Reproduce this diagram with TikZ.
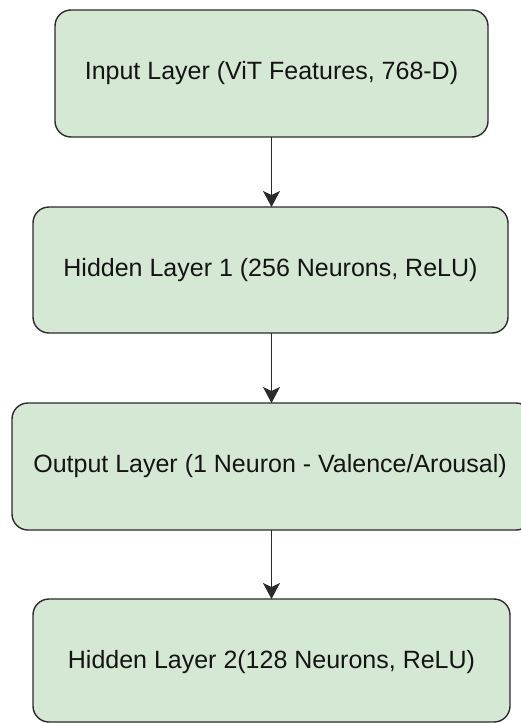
\documentclass[tikz,border=0pt]{standalone}
\usepackage{fontspec}
\setmainfont{Liberation Sans}
\usetikzlibrary{arrows.meta}
\definecolor{boxfill}{HTML}{D5E8D4}
\definecolor{boxline}{HTML}{2B2B2B}
\begin{document}
\begin{tikzpicture}[x=1pt,y=-1pt,
  layer/.style={draw=boxline, line width=1.4pt, fill=boxfill, rounded corners=16pt},
  lbl/.style={font=\fontsize{25}{30}\selectfont, text=black!92},
  conn/.style={draw=boxline, line width=1.3pt, -{Stealth[length=16pt,width=17pt,inset=4pt]}}]
\useasboundingbox (0,0) rectangle (520,723);
\path[layer] (55,10) rectangle (488,137);
\node[lbl] (n1) at (271.5,73.5) {Input Layer (ViT Features, 768-D)};
\coordinate (b1) at (271.5,137);
\path[layer] (33,207) rectangle (508,333);
\node[lbl] (n2) at (270.5,270) {Hidden Layer 1 (256 Neurons, ReLU)};
\coordinate (t2) at (271.5,207);
\coordinate (b2) at (271.5,333);
\path[layer] (12,403) rectangle (532,530);
\node[lbl] (n3) at (270,466.5) {Output Layer (1 Neuron - Valence/Arousal)};
\coordinate (t3) at (271.5,403);
\coordinate (b3) at (271.5,530);
\path[layer] (33,599) rectangle (510,722);
\node[lbl] (n4) at (271.5,662) {Hidden Layer 2(128 Neurons, ReLU)};
\coordinate (t4) at (271.5,599);
\draw[conn] (b1) -- (t2);
\draw[conn] (b2) -- (t3);
\draw[conn] (b3) -- (t4);
\end{tikzpicture}
\end{document}
